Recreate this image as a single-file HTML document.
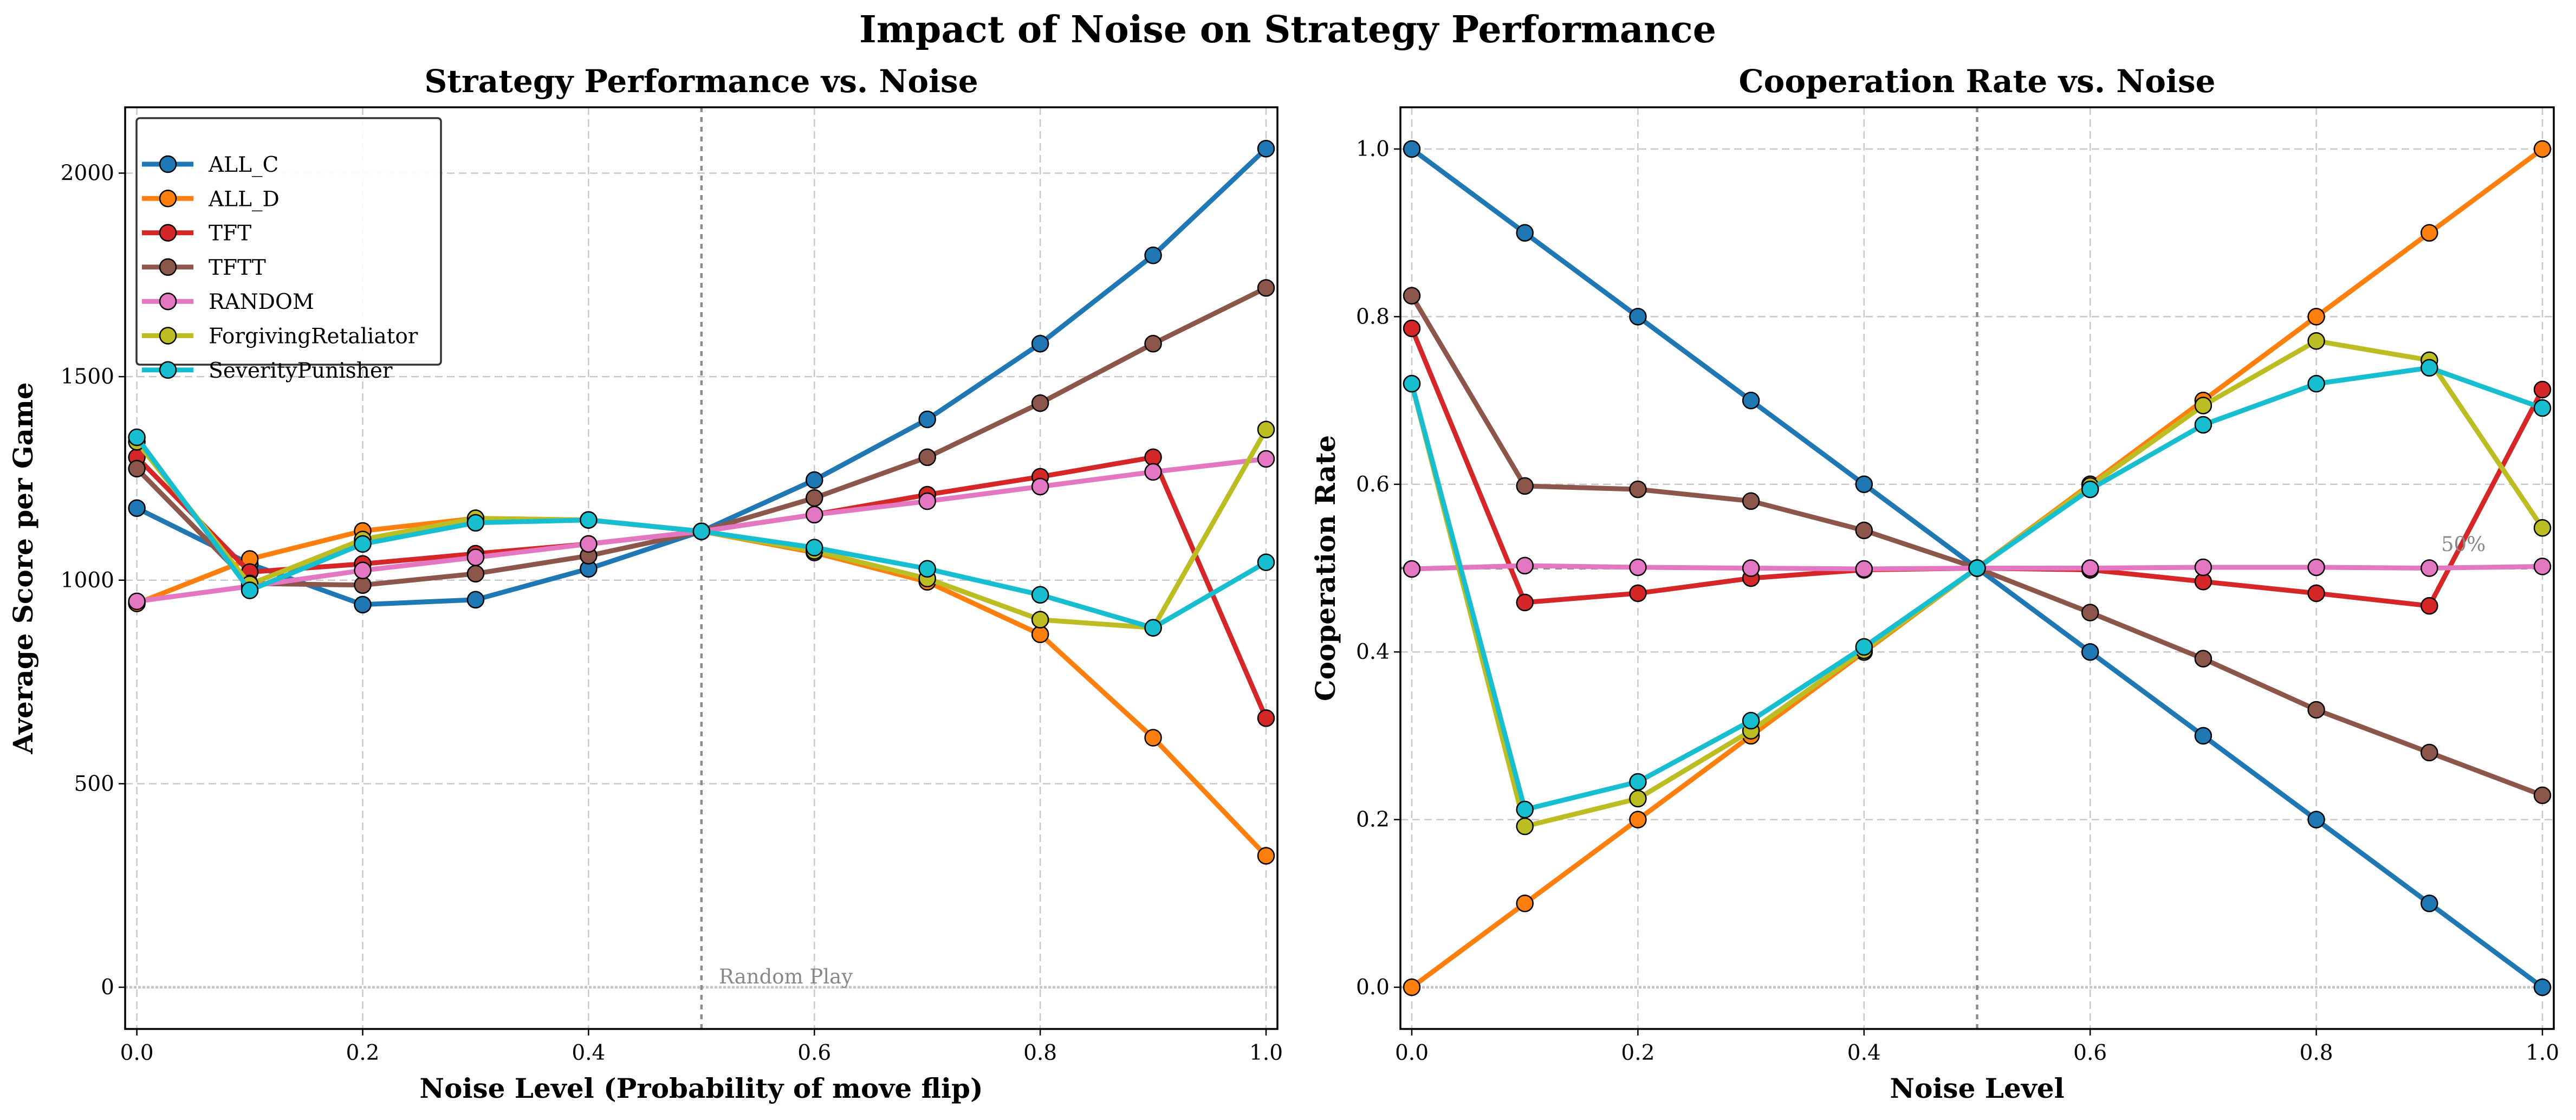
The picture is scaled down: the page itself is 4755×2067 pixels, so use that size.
<!DOCTYPE html>
<html><head><meta charset="utf-8">
<style>
html,body{margin:0;padding:0;background:#fff;}
svg{display:block;font-family:"DejaVu Serif","Liberation Serif",serif;}
text{font-family:"DejaVu Serif","Liberation Serif",serif;}
</style></head>
<body>
<svg id="fig" width="4755" height="2067" viewBox="0 0 4755 2067" xmlns="http://www.w3.org/2000/svg" font-family="DejaVu Serif, Liberation Serif, serif">
<text x="2377" y="78" font-size="68" font-weight="bold" text-anchor="middle">Impact of Noise on Strategy Performance</text>
</svg>
<script>
const noise = [0,0.1,0.2,0.3,0.4,0.5,0.6,0.7,0.8,0.9,1.0];
const names = ["ALL_C","ALL_D","TFT","TFTT","RANDOM","ForgivingRetaliator","SeverityPunisher"];
const colors = ["#1f77b4","#ff7f0e","#d62728","#8c564b","#e377c2","#bcbd22","#17becf"];
const scoreAllC = [1177,1040,940,952,1028,1120,1246,1395,1581,1798,2060];
const scoreAllD = [943,1052,1121,1152,1148,1120,1068,996,867,613,323];
const scoreTFT = [1302,1020,1040,1065,1089,1120,1161,1210,1254,1302,661];
const scoreTFTT = [1274,992,988,1016,1060,1120,1202,1302,1435,1581,1718];
const scoreRandom = [948,985,1024,1056,1089,1120,1161,1194,1230,1266,1298];
const scoreFR = [1340,990,1100,1152,1148,1120,1072,1004,903,883,1370];
const scoreSP = [1351,975,1089,1141,1148,1120,1080,1028,964,883,1044];
const coopAllC = [1.0,0.9,0.8,0.7,0.6,0.5,0.4,0.3,0.2,0.1,0.0];
const coopAllD = [0.0,0.1,0.2,0.3,0.4,0.5,0.6,0.7,0.8,0.9,1.0];
const coopTFT = [0.786,0.459,0.47,0.488,0.498,0.5,0.498,0.484,0.47,0.455,0.713];
const coopTFTT = [0.825,0.598,0.594,0.58,0.545,0.5,0.447,0.392,0.331,0.28,0.229];
const coopRandom = [0.499,0.503,0.501,0.5,0.499,0.5,0.5,0.501,0.501,0.5,0.502];
const coopFR = [0.72,0.192,0.225,0.306,0.402,0.5,0.598,0.694,0.771,0.748,0.548];
const coopSP = [0.72,0.212,0.245,0.318,0.406,0.5,0.594,0.671,0.72,0.739,0.691];
const xTicks = [0,0.2,0.4,0.6,0.8,1.0];
const xTickLabels = ["0.0","0.2","0.4","0.6","0.8","1.0"];
const scoreTicks = [0,500,1000,1500,2000];
const coopTicks = [0,0.2,0.4,0.6,0.8,1.0];
const coopTickLabels = ["0.0","0.2","0.4","0.6","0.8","1.0"];

const NS="http://www.w3.org/2000/svg";
const svg=document.getElementById('fig');
const FF='DejaVu Serif, Liberation Serif, serif';
function el(tag,attrs,parent,txt){const e=document.createElementNS(NS,tag);for(const k in attrs)e.setAttribute(k,attrs[k]);if(tag==='text')e.setAttribute('font-family',FF);if(txt!==undefined)e.textContent=txt;(parent||svg).appendChild(e);return e;}

function panel(cfg){
  const g=el('g',{});
  
  
  const {L,R,T,B,x0,x1,yA,yB,vA,vB}=cfg;
  const X=v=>x0+(x1-x0)*v;
  const Y=v=>yA+(yB-yA)*(v-vA)/(vB-vA);
  xTicks.forEach(t=>{const l=el('line',{x1:X(t),x2:X(t),y1:T,y2:B,stroke:'#c8c8c8','stroke-width':2.5,'stroke-dasharray':'14 8'},g);
    });
  cfg.yTicks.forEach(t=>{if(t===0)return;const l=el('line',{x1:L,x2:R,y1:Y(t),y2:Y(t),stroke:'#c8c8c8','stroke-width':2.5,'stroke-dasharray':'14 8'},g);
    });
  let r=el('line',{x1:L,x2:R,y1:Y(0),y2:Y(0),stroke:'#c4c4c4','stroke-width':5,'stroke-dasharray':'5 3'},g);
  
  if(cfg.half){r=el('line',{x1:L,x2:R,y1:Y(0.5),y2:Y(0.5),stroke:'#888','stroke-width':5,'stroke-dasharray':'12 10'},g);
    }
  r=el('line',{x1:X(0.5),x2:X(0.5),y1:T,y2:B,stroke:'#8c8c8c','stroke-width':4.5,'stroke-dasharray':'9 9'},g);
  
  cfg.series.forEach((s,i)=>{
    const pts=s.map((v,j)=>X(noise[j]).toFixed(1)+','+Y(v).toFixed(1)).join(' ');
    const pl=el('polyline',{points:pts,fill:'none',stroke:colors[i],'stroke-width':9,'stroke-linejoin':'round'},g);
    
    
    s.forEach((v,j)=>{const c=el('circle',{cx:X(noise[j]),cy:Y(v),r:15,fill:colors[i],stroke:'#000','stroke-width':2.5},g);
      
      });
  });
  const sp=el('rect',{x:L,y:T,width:R-L,height:B-T,fill:'none',stroke:'#000','stroke-width':3.5},g);
  
  xTicks.forEach((t,k)=>{el('line',{x1:X(t),x2:X(t),y1:B,y2:B+12,stroke:'#000','stroke-width':2.5},g);
    const tx=el('text',{x:X(t),y:B+57,'font-size':39,'text-anchor':'middle'},g,xTickLabels[k]);
    });
  cfg.yTicks.forEach((t,k)=>{el('line',{x1:L-12,x2:L,y1:Y(t),y2:Y(t),stroke:'#000','stroke-width':2.5},g);
    const tx=el('text',{x:L-20,y:Y(t)+13,'font-size':39,'text-anchor':'end'},g,cfg.yLabels[k]);
    });
  let t=el('text',{x:(L+R)/2,y:170,'font-size':58,'font-weight':'bold','text-anchor':'middle'},g,cfg.title);
  
  t=el('text',{x:(L+R)/2,y:2026,'font-size':50,'font-weight':'bold','text-anchor':'middle'},g,cfg.xlabel);
  
  t=el('text',{x:0,y:0,'font-size':50,'font-weight':'bold','text-anchor':'middle',transform:`translate(${cfg.ylx},${(T+B)/2}) rotate(-90)`},g,cfg.ylabel);
  
  return {g,X,Y};
}

const p1=panel({name:'score-panel',L:231,R:2358,T:198,B:1899,x0:252.6,x1:2337,yA:1822,yB:319.5,vA:0,vB:2000,
  yTicks:scoreTicks,yLabels:scoreTicks.map(String),series:[scoreAllC,scoreAllD,scoreTFT,scoreTFTT,scoreRandom,scoreFR,scoreSP],
  title:'Strategy Performance vs. Noise',xlabel:'Noise Level (Probability of move flip)',ylabel:'Average Score per Game',ylx:60,half:false});
let a=el('text',{x:1327,y:1815,'font-size':37,fill:'#888'},p1.g,'Random Play');


const p2=panel({name:'cooperation-panel',L:2585,R:4714,T:198,B:1899,x0:2606,x1:4693,yA:1822,yB:275,vA:0,vB:1,
  yTicks:coopTicks,yLabels:coopTickLabels,series:[coopAllC,coopAllD,coopTFT,coopTFTT,coopRandom,coopFR,coopSP],
  title:'Cooperation Rate vs. Noise',xlabel:'Noise Level',ylabel:'Cooperation Rate',ylx:2464,half:true});
a=el('text',{x:4506,y:1017,'font-size':37,fill:'#888'},p2.g,'50%');


const lg=el('g',{},p1.g);


el('rect',{x:252,y:218,width:562,height:455,rx:6,fill:'#fff','fill-opacity':0.9,stroke:'#333','stroke-width':3.5},lg);
names.forEach((n,i)=>{
  const y=303+i*63.3;
  const e=el('g',{},lg);
  
  
  el('line',{x1:262,x2:357,y1:y,y2:y,stroke:colors[i],'stroke-width':9},e);
  el('circle',{cx:310,cy:y,r:15,fill:colors[i],stroke:'#000','stroke-width':2.5},e);
  el('text',{x:385,y:y+14,'font-size':39},e,n);
});
</script>
</body></html>
